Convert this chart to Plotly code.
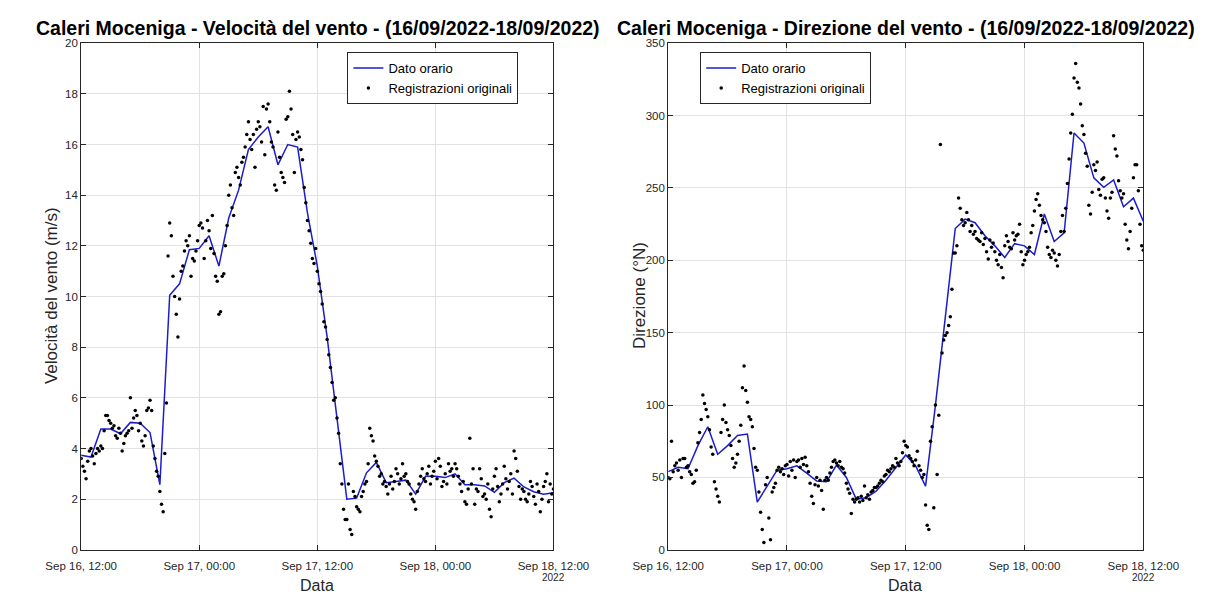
import pandas as pd
import plotly.graph_objects as go

# --- time bases -------------------------------------------------------------
start = "2022-09-16 12:00"
end = "2022-09-18 12:00"
hours = pd.date_range(start, periods=49, freq="h")          # hourly values
obs_times = pd.date_range(start, periods=289, freq="10min")  # raw recordings

tick_vals = ["2022-09-16 12:00", "2022-09-17 00:00", "2022-09-17 12:00",
             "2022-09-18 00:00", "2022-09-18 12:00"]
tick_text = ["Sep 16, 12:00", "Sep 17, 00:00", "Sep 17, 12:00",
             "Sep 18, 00:00", "Sep 18, 12:00"]

# --- wind speed (m/s) -------------------------------------------------------
speed_hourly = [3.73, 3.66, 4.77, 4.77, 4.58, 5.03, 5.0, 4.63, 2.57, 10.05,
                10.5, 11.85, 11.9, 12.4, 11.2, 13.1, 14.2, 15.8, 16.3, 16.7,
                15.2, 16.0, 15.9, 13.3, 11.2, 8.4, 5.2, 2.0, 2.04, 3.04,
                3.45, 2.65, 2.7, 2.75, 2.2, 2.9, 2.9, 2.85, 3.0, 2.57,
                2.57, 2.52, 2.27, 2.65, 2.83, 2.48, 2.29, 2.19, 2.25]

speed_obs = [
    3.6, 3.3, 3.1, 2.8, 3.5, 3.9,
    4.0, 3.7, 3.4, 3.8, 4.0, 3.9,
    4.1, 4.0, 4.7, 5.3, 5.3, 5.1,
    5.0, 4.8, 4.9, 4.5, 4.4, 4.8,
    4.6, 3.9, 4.2, 4.5, 4.6, 4.7,
    6.0, 4.8, 5.2, 5.5, 5.3, 4.7,
    5.0, 4.3, 4.1, 4.5, 5.5, 5.6,
    5.9, 5.5, 4.1, 3.6, 3.1, 2.9,
    2.3, 1.8, 1.5, 3.8, 5.8, 11.6,
    12.9, 12.4, 10.8, 10.0, 9.3, 8.4,
    9.9, 11.0, 11.2, 11.8, 12.2, 12.0,
    12.4, 10.8, 11.5, 11.4, 11.8, 12.2,
    12.8, 12.9, 12.7, 11.5, 12.2, 13.0,
    12.6, 11.9, 13.2, 11.7, 10.8, 10.6,
    9.3, 9.4, 10.8, 10.9, 12.0, 12.8,
    14.0, 14.4, 13.5, 13.2, 14.9, 15.1,
    14.7, 14.4, 15.3, 15.5, 15.9, 16.4,
    16.9, 16.2, 15.8, 16.4, 15.1, 16.6,
    16.9, 16.7, 16.1, 17.5, 15.6, 17.4,
    17.6, 16.9, 16.1, 15.9, 14.4, 14.2,
    16.5, 15.5, 14.9, 14.7, 14.5, 17.0,
    17.1, 18.1, 17.4, 16.4, 14.9, 16.2,
    16.5, 16.3, 15.8, 15.4, 14.3, 13.7,
    13.0, 12.6, 12.1, 11.5, 11.3, 11.9,
    11.0, 10.5, 10.2, 9.7, 9.0, 8.8,
    8.3, 7.7, 7.2, 6.6, 5.9, 6.0,
    5.2, 4.6, 3.4, 2.6, 1.6, 1.2,
    1.2, 2.6, 0.8, 0.6, 2.3, 2.1,
    1.7, 1.6, 1.5, 2.1, 2.3, 2.6,
    2.7, 3.4, 4.8, 4.5, 4.3, 3.7,
    3.5, 3.3, 2.9, 3.0, 2.6, 2.7,
    2.5, 2.2, 2.6, 2.9, 2.4, 2.7,
    3.2, 3.0, 2.6, 2.8, 3.4, 2.9,
    3.0, 2.7, 2.6, 2.2, 2.0, 1.9,
    1.6, 2.3, 2.6, 2.9, 3.2, 2.8,
    2.7, 3.0, 3.3, 2.6, 2.9, 3.1,
    3.5, 2.8, 3.6, 3.3, 2.5, 2.7,
    3.0, 2.6, 3.4, 3.1, 3.2, 2.9,
    3.4, 3.2, 2.9, 2.6, 2.3, 2.7,
    1.9, 1.8, 2.4, 4.4, 2.6, 3.2,
    1.8, 2.4, 2.3, 3.2, 2.8, 2.1,
    2.2, 2.0, 2.6, 1.6, 1.3, 2.4,
    2.9, 3.2, 2.5, 1.9, 2.2, 2.6,
    3.3, 2.8, 2.4, 2.7, 3.0, 2.2,
    3.9, 3.6, 3.1, 2.5, 2.0, 2.4,
    2.3, 2.0, 1.9, 2.2, 2.7, 2.5,
    2.1, 1.8, 2.6, 2.3, 1.5, 2.0,
    2.5, 2.7, 3.0, 1.9, 2.6, 2.2,
    2.4,
]

# --- wind direction (degrees N) ---------------------------------------------
dir_hourly = [54, 57, 56, 72, 85, 66, 72, 79, 80, 33,
              44, 55, 56, 58, 53, 47.5, 47, 58.5, 50, 35,
              36, 40.5, 48, 57, 65.5, 58, 44, 100, 160, 222,
              228.5, 226, 217, 210, 202, 211.5, 210, 204, 232, 213,
              219, 288, 281, 257, 250.5, 255.5, 237, 243, 227]

dir_obs = [
    50, 49, 75, 54, 58, 60,
    55, 62, 50, 63, 63, 57,
    58, 54, 52, 46, 47, 55,
    74, 81, 90, 107, 101, 97,
    92, 83, 71, 66, 47, 42,
    37, 33, 81, 90, 100, 88,
    83, 79, 72, 63, 57, 60,
    66, 75, 86, 112, 127, 110,
    102, 92, 90, 85, 70, 57,
    55, 40, 26, 14, 5, 45,
    50, 22, 7, 40, 43, 46,
    55, 57, 54, 56, 52, 58,
    59, 51, 61, 55, 62, 50,
    61, 62, 57, 63, 59, 64,
    58, 54, 46, 37, 32, 45,
    50, 44, 48, 41, 28, 48,
    50, 48, 53, 57, 61, 62,
    60, 58, 61, 57, 56, 53,
    46, 42, 39, 25, 35, 33,
    35, 36, 33, 37, 34, 44,
    36, 38, 35, 40, 41, 43,
    43, 44, 46, 48, 47, 51,
    52, 55, 54, 56, 58, 57,
    63, 60, 58, 61, 67, 75,
    72, 71, 65, 63, 61, 58,
    62, 68, 58, 55, 50, 52,
    31, 17, 14, 75, 85, 29,
    100, 52, 93, 280, 136, 145,
    148, 150, 155, 161, 180, 205,
    205, 210, 243, 236, 228, 224,
    226, 233, 228, 220, 224, 218,
    220, 215, 214, 213, 219, 211,
    215, 206, 201, 214, 209, 212,
    206, 200, 197, 204, 195, 188,
    210, 217, 213, 209, 208, 219,
    214, 217, 218, 225, 206, 197,
    200, 204, 206, 209, 219, 224,
    234, 242, 246, 238, 231, 228,
    226, 220, 209, 204, 202, 207,
    205, 200, 196, 204, 220, 231,
    220, 236, 253, 270, 288, 301,
    326, 336, 323, 319, 308, 293,
    287, 274, 265, 238, 232, 247,
    266, 262, 268, 249, 245, 256,
    257, 243, 234, 229, 243, 247,
    286, 277, 272, 255, 248, 243,
    246, 225, 214, 208, 220, 236,
    257, 266, 266, 248, 225, 210,
    207,
]

# --- styling ------------------------------------------------------------------
W, H = 1216, 594
FONT = "Liberation Sans, Arial, sans-serif"
LINE_BLUE = "rgb(28,28,205)"
AXIS_COL = "#262626"
GRID_COL = "#e2e2e2"

left_px = (48, 550)
right_px = (672, 1177)
top_px, bottom_px = 38, 555


def px_x(p):
    return p / W


def px_y(p):
    return 1 - p / H


fig = go.Figure()

fig.add_trace(go.Scatter(x=hours, y=speed_hourly, mode="lines",
                         line=dict(color=LINE_BLUE, width=1.5),
                         name="Dato orario", xaxis="x", yaxis="y", legend="legend"))
fig.add_trace(go.Scatter(x=obs_times, y=speed_obs, mode="markers",
                         marker=dict(color="black", size=3.5),
                         name="Registrazioni originali", xaxis="x", yaxis="y",
                         legend="legend"))
fig.add_trace(go.Scatter(x=hours, y=dir_hourly, mode="lines",
                         line=dict(color=LINE_BLUE, width=1.5),
                         name="Dato orario", xaxis="x2", yaxis="y2", legend="legend2"))
fig.add_trace(go.Scatter(x=obs_times, y=dir_obs, mode="markers",
                         marker=dict(color="black", size=3.5),
                         name="Registrazioni originali", xaxis="x2", yaxis="y2",
                         legend="legend2"))

common_x = dict(type="date", range=[start, end], tickmode="array",
                tickvals=tick_vals, ticktext=tick_text,
                showgrid=True, gridcolor=GRID_COL, gridwidth=1,
                showline=True, linecolor=AXIS_COL, linewidth=1, mirror="ticks",
                ticks="inside", ticklen=5, tickcolor=AXIS_COL,
                ticklabelstandoff=5,
                tickfont=dict(family=FONT, size=11.5, color=AXIS_COL),
                zeroline=False, fixedrange=True)
common_y = dict(showgrid=True, gridcolor=GRID_COL, gridwidth=1,
                showline=True, linecolor=AXIS_COL, linewidth=1, mirror="ticks",
                ticks="inside", ticklen=5, tickcolor=AXIS_COL,
                tickfont=dict(family=FONT, size=11.5, color=AXIS_COL),
                zeroline=False, fixedrange=True,
                domain=[px_y(bottom_px), px_y(top_px)])

legend_common = dict(xanchor="left", yanchor="top", bgcolor="white",
                     bordercolor=AXIS_COL, borderwidth=1, itemwidth=30,
                     tracegroupgap=0,
                     font=dict(family=FONT, size=13, color="black"))

fig.update_layout(
    width=W, height=H,
    margin=dict(l=0, r=0, t=0, b=0),
    paper_bgcolor="white", plot_bgcolor="white",
    showlegend=True,
    xaxis=dict(common_x, domain=[px_x(left_px[0]), px_x(left_px[1])], anchor="y"),
    yaxis=dict(common_y, range=[0, 20], tick0=0, dtick=2, anchor="x"),
    xaxis2=dict(common_x, domain=[px_x(right_px[0]), px_x(right_px[1])], anchor="y2"),
    yaxis2=dict(common_y, range=[0, 350], tick0=0, dtick=50, anchor="x2"),
    legend=dict(legend_common, x=px_x(331), y=px_y(47)),
    legend2=dict(legend_common, x=px_x(706), y=px_y(47)),
)

annotations = [
    dict(text="<b>Caleri Moceniga - Velocità del vento - (16/09/2022-18/09/2022)</b>",
         x=px_x(300), y=px_y(22), font=dict(size=19.5)),
    dict(text="<b>Caleri Moceniga - Direzione del vento - (16/09/2022-18/09/2022)</b>",
         x=px_x(925), y=px_y(22), font=dict(size=19.5)),
    dict(text="Velocità del vento (m/s)", x=px_x(16), y=px_y(296),
         textangle=-90, font=dict(size=17, color=AXIS_COL)),
    dict(text="Direzione (°N)", x=px_x(641), y=px_y(296),
         textangle=-90, font=dict(size=17, color=AXIS_COL)),
    dict(text="Data", x=px_x(299), y=px_y(591), font=dict(size=16, color=AXIS_COL)),
    dict(text="Data", x=px_x(924), y=px_y(591), font=dict(size=16, color=AXIS_COL)),
    dict(text="2022", x=px_x(550), y=px_y(583), font=dict(size=10, color=AXIS_COL)),
    dict(text="2022", x=px_x(1177), y=px_y(583), font=dict(size=10, color=AXIS_COL)),
]
for a in annotations:
    a.setdefault("font", {})
    a["font"].setdefault("color", "black")
    a["font"]["family"] = FONT
    fig.add_annotation(xref="paper", yref="paper", showarrow=False,
                       xanchor="center", yanchor="middle", **a)

fig.write_html("out.html")
